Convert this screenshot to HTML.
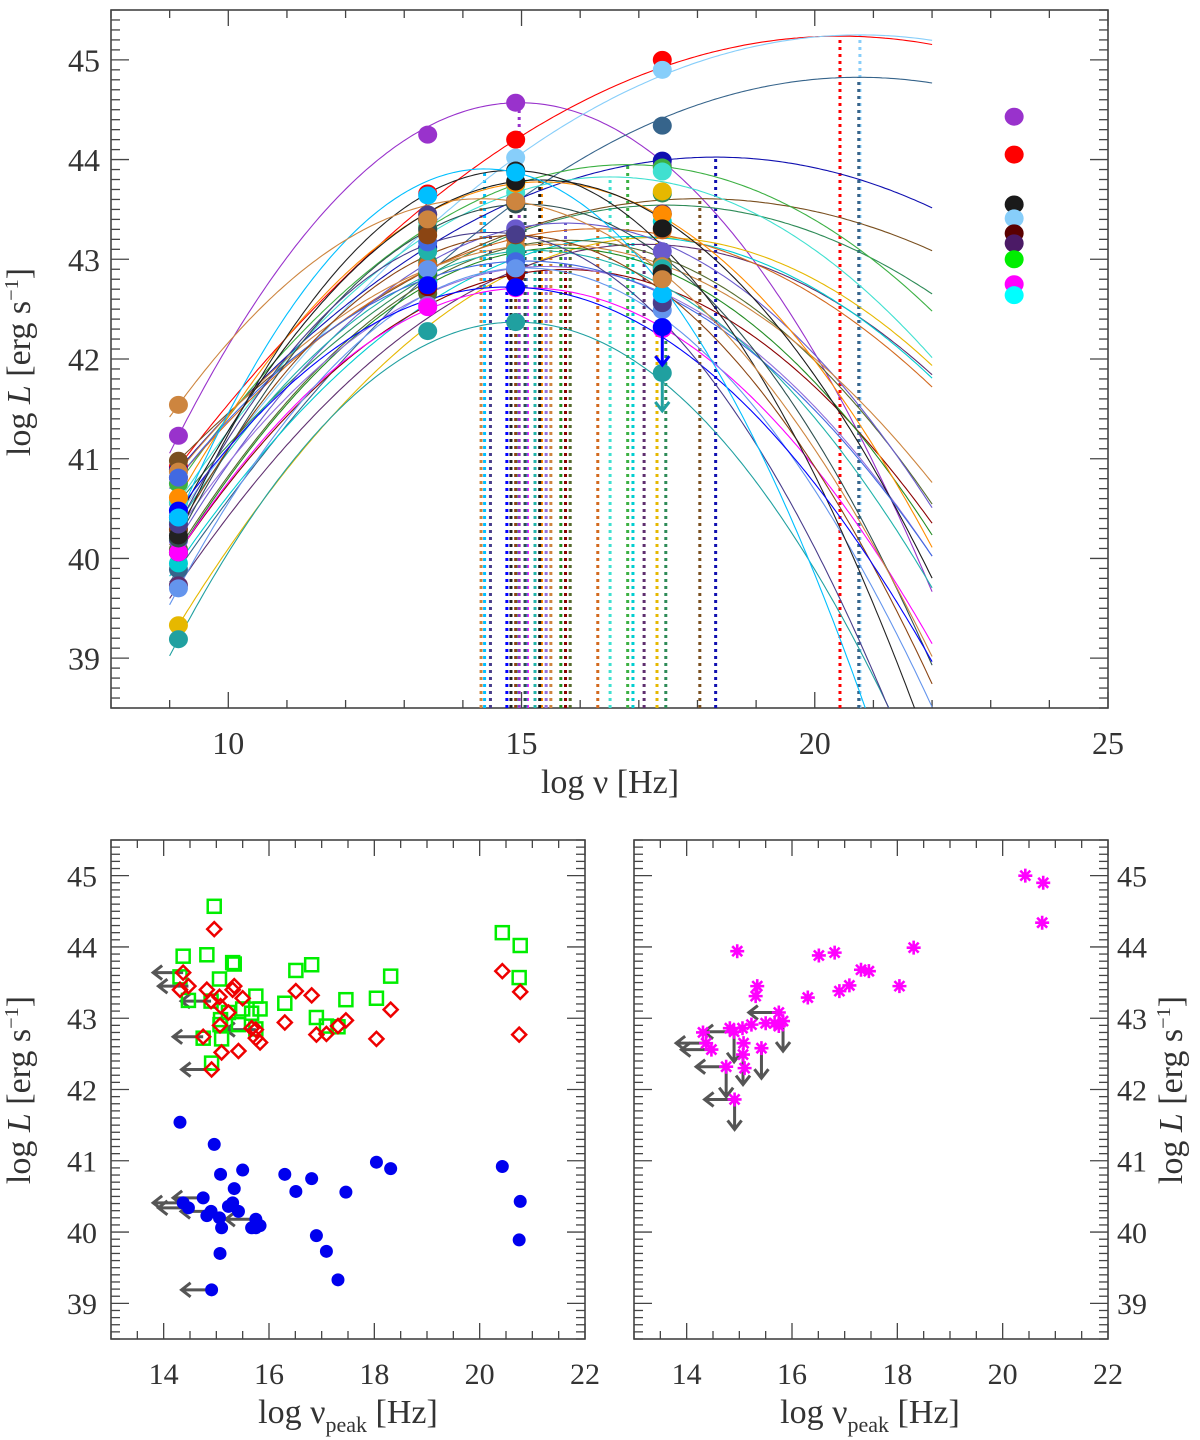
<!DOCTYPE html>
<html><head><meta charset="utf-8"><style>
html,body{margin:0;padding:0;background:#fff;}
svg{display:block;font-family:"Liberation Serif",serif;}
</style></head><body>
<svg id="fig" width="1200" height="1440" viewBox="0 0 1200 1440" xmlns="http://www.w3.org/2000/svg">
<defs>
<clipPath id="clipTop"><rect x="111" y="10" width="997" height="698"/></clipPath>
</defs>
<rect width="1200" height="1440" fill="#fff"/>
<g id="top"></g>
<g id="bl"></g>
<g id="br"></g>
</svg>
<script>
// ---- data ----
const bands = [9.15, 13.4, 14.9, 17.4];
const gammaBand = 23.4;
const nuPeak = [14.96,20.43,20.77,20.75,18.31,18.04,17.46,17.31,17.09,16.90,16.81,16.51,16.30,15.83,15.75,15.75,15.67,15.50,15.42,15.34,15.31,15.23,15.10,15.08,15.07,15.06,14.91,14.90,14.82,14.75,14.47,14.37,14.31];
const Lradio = [41.23,40.92,40.43,39.89,40.89,40.98,40.56,39.33,39.73,39.95,40.75,40.57,40.81,40.09,40.18,40.06,40.06,40.87,40.29,40.61,40.41,40.36,40.06,40.81,39.70,40.20,39.19,40.29,40.23,40.48,40.34,40.41,41.54];
const Lir = [44.25,43.66,43.37,42.77,43.12,42.71,42.97,42.89,42.78,42.77,43.32,43.38,42.94,42.66,42.84,42.72,42.86,43.28,42.54,43.45,43.40,43.08,42.52,43.17,42.90,43.30,42.28,43.24,43.40,42.74,43.45,43.64,43.40];
const Lopt = [44.57,44.20,44.02,43.57,43.59,43.28,43.26,42.88,42.89,43.01,43.75,43.67,43.21,43.13,43.31,42.85,43.07,43.13,42.91,43.76,43.78,43.08,42.71,42.98,42.91,43.55,42.37,43.24,43.89,42.72,43.25,43.87,43.58];
const Lx = [43.94,45.00,44.90,44.34,43.99,43.45,43.66,43.68,43.46,43.38,43.92,43.88,43.29,42.96,43.08,42.89,42.93,42.93,42.58,43.45,43.31,42.91,42.30,42.65,42.49,42.86,41.86,42.81,42.86,42.32,42.56,42.65,42.80];
const gammaL = [44.43,44.05,43.55,43.41,43.26,43.16,43.00,42.75,42.64];
const nuLimitIdx = [14,26,27,29,30,31];
const xLimitIdx = [13,18,24,26,27,29];
const topXArrowIdx = [26,29];
// ---- styles ----
const palette = ["#9932cc","#ff0000","#87cefa","#36648b","#1010b0","#7a5020","#2e8b57","#e6b800","#5f2f6f","#00ced1","#3cb043","#40e0d0","#d2691e","#556b2f","#6a5acd","#8b0000","#228b22","#cd853f","#9370db","#ff8c00","#1a1a1a","#20b2aa","#ff00ff","#4169e1","#6495ed","#2f4f4f","#20a0a0","#8b4513","#222222","#0000ff","#483d8b","#00bfff","#cd853f"];
const gammaColor = ["#9932cc","#ff0000","#1a1a1a","#87cefa","#5a0000","#4b1a66","#00ee00","#ff00ff","#00ffff"];

const NS="http://www.w3.org/2000/svg";
function el(tag, attrs, parent){const e=document.createElementNS(NS,tag);for(const k in attrs)e.setAttribute(k,attrs[k]);parent.appendChild(e);return e;}
const AX="#444", TXT="#333";

function axes(g, P, xMaj, xMin, yMaj, yMin, fs, xlabY, ylabSide, ylabX){
  el('rect',{x:P.x0,y:P.y0,width:P.x1-P.x0,height:P.y1-P.y0,fill:'none',stroke:AX,'stroke-width':1.6},g);
  const sx=v=>P.x0+(v-P.xmin)/(P.xmax-P.xmin)*(P.x1-P.x0);
  const sy=v=>P.y1-(v-P.ymin)/(P.ymax-P.ymin)*(P.y1-P.y0);
  const eps=1e-6;
  for(let v=Math.ceil(P.xmin/xMin)*xMin; v<=P.xmax+eps; v+=xMin){
    const maj=Math.abs(v/xMaj-Math.round(v/xMaj))<1e-4; const L=maj?16:8; const x=sx(v);
    el('line',{x1:x,x2:x,y1:P.y1,y2:P.y1-L,stroke:AX,'stroke-width':1.3},g);
    el('line',{x1:x,x2:x,y1:P.y0,y2:P.y0+L,stroke:AX,'stroke-width':1.3},g);
    if(maj){const t=el('text',{x:x,y:xlabY,'font-size':fs,'text-anchor':'middle',fill:TXT},g);t.textContent=Math.round(v);
      }
  }
  for(let v=Math.ceil(P.ymin/yMin-eps)*yMin; v<=P.ymax+eps; v+=yMin){
    const maj=Math.abs(v/yMaj-Math.round(v/yMaj))<1e-4; const L=maj?18:9; const y=sy(v);
    el('line',{x1:P.x0,x2:P.x0+L,y1:y,y2:y,stroke:AX,'stroke-width':1.3},g);
    el('line',{x1:P.x1,x2:P.x1-L,y1:y,y2:y,stroke:AX,'stroke-width':1.3},g);
    if(maj && ylabSide){const t=el('text',{x:ylabX,y:y+fs*0.36,'font-size':fs,'text-anchor':ylabSide==='left'?'end':'start',fill:TXT},g);t.textContent=Math.round(v);
      }
  }
  return {sx,sy};
}
function yTitle(g,x,y,fs){
  const t=el('text',{x:0,y:0,'font-size':fs,'text-anchor':'middle',fill:TXT,transform:`translate(${x},${y}) rotate(-90)`},g);
  t.innerHTML='log <tspan font-style="italic">L</tspan> [erg s<tspan dy="-12" font-size="'+(fs*0.6)+'">−1</tspan><tspan dy="12">]</tspan>';
  
}
function leftArrow(g,x,y,len){
  const a=el('path',{d:`M${x},${y} L${x-len},${y} M${x-len+9},${y-7} L${x-len},${y} L${x-len+9},${y+7}`,stroke:'#555','stroke-width':3,fill:'none'},g);
  
}
function downArrow(g,x,y,len,c){
  const a=el('path',{d:`M${x},${y} L${x},${y+len} M${x-7},${y+len-9} L${x},${y+len} L${x+7},${y+len-9}`,stroke:c||'#555','stroke-width':3,fill:'none'},g);
  
}
function curveParams(i){
  const n=nuPeak[i], a=(9.15-n)**2, c=(14.9-n)**2;
  const b=(Lopt[i]-Lradio[i])/(a-c);
  return {b, Lp: Lopt[i]+b*c};
}

// ---- top panel ----
(function(){
  const g=document.getElementById('top');
  const P={x0:111,x1:1108,y0:10,y1:708,xmin:8,xmax:25,ymin:38.5,ymax:45.5};
  const {sx,sy}=axes(g,P,5,1,1,0.1,32,754,'left',100);
  yTitle(g,30,362,34);
  const xt=el('text',{x:610,y:793,'font-size':34,'text-anchor':'middle',fill:TXT},g);
  xt.textContent='log ν [Hz]';
  
  const cg=el('g',{'clip-path':'url(#clipTop)'},g);
  // dotted peak lines
  nuPeak.forEach((n,i)=>{
    const {Lp}=curveParams(i);
    const l=el('line',{x1:sx(n),x2:sx(n),y1:P.y1,y2:sy(Lp),stroke:palette[i],'stroke-width':3,'stroke-dasharray':'3 4'},cg);
    
    
  });
  // curves
  nuPeak.forEach((n,i)=>{
    const {b,Lp}=curveParams(i); let d='';
    for(let x=9.0;x<=22.0001;x+=0.05){const y=Lp-b*(x-n)**2; d+=(d?'L':'M')+sx(x).toFixed(1)+','+sy(y).toFixed(1);}
    const p=el('path',{d,fill:'none',stroke:palette[i],'stroke-width':1.1},cg);
    
    
  });
  const bandVals=[Lradio,Lir,Lopt,Lx];
  bandVals.forEach((arr,k)=>{
    arr.forEach((v,i)=>{
      const c=el('ellipse',{cx:sx(bands[k]),cy:sy(v),rx:9.5,ry:9,fill:palette[i]},g);
      
      
    });
  });
  topXArrowIdx.forEach(i=>downArrow(g,sx(bands[3]),sy(Lx[i])+6,32,palette[i]));
  gammaL.forEach((v,i)=>{
    const c=el('ellipse',{cx:sx(gammaBand),cy:sy(v),rx:9.5,ry:9,fill:gammaColor[i]},g);
    
    
  });
})();

// ---- bottom left ----
(function(){
  const g=document.getElementById('bl');
  const P={x0:111,x1:585,y0:840,y1:1339,xmin:13,xmax:22,ymin:38.5,ymax:45.5};
  const {sx,sy}=axes(g,P,2,0.5,1,0.1,30,1384,'left',97);
  yTitle(g,30,1090,34);
  const xt=el('text',{x:348,y:1423,'font-size':34,'text-anchor':'middle',fill:TXT},g);
  xt.innerHTML='log ν<tspan dy="9" font-size="22">peak</tspan><tspan dy="-9"> [Hz]</tspan>';
  
  nuLimitIdx.forEach(i=>{leftArrow(g,sx(nuPeak[i]),sy(Lradio[i]),30);leftArrow(g,sx(nuPeak[i]),sy(Lir[i]),30);});
  Lopt.forEach((v,i)=>{
    const s=el('rect',{x:sx(nuPeak[i])-6.5,y:sy(v)-6.5,width:13,height:13,fill:'none',stroke:'#00ee00','stroke-width':2.5},g);
    
    
  });
  Lir.forEach((v,i)=>{
    const x=sx(nuPeak[i]),y=sy(v);
    const d=el('path',{d:`M${x},${y-7} L${x+7},${y} L${x},${y+7} L${x-7},${y} Z`,fill:'none',stroke:'#ee0000','stroke-width':2.5},g);
    
    
  });
  Lradio.forEach((v,i)=>{
    const c=el('circle',{cx:sx(nuPeak[i]),cy:sy(v),r:6.5,fill:'#0000ee'},g);
    
    
  });
})();

// ---- bottom right ----
(function(){
  const g=document.getElementById('br');
  const P={x0:634,x1:1108,y0:840,y1:1339,xmin:13,xmax:22,ymin:38.5,ymax:45.5};
  const {sx,sy}=axes(g,P,2,0.5,1,0.1,30,1384,'right',1117);
  yTitle(g,1182,1090,34);
  const xt=el('text',{x:870,y:1423,'font-size':34,'text-anchor':'middle',fill:TXT},g);
  xt.innerHTML='log ν<tspan dy="9" font-size="22">peak</tspan><tspan dy="-9"> [Hz]</tspan>';
  
  nuLimitIdx.forEach(i=>leftArrow(g,sx(nuPeak[i]),sy(Lx[i]),30));
  xLimitIdx.forEach(i=>downArrow(g,sx(nuPeak[i]),sy(Lx[i]),30));
  Lx.forEach((v,i)=>{
    const x=sx(nuPeak[i]),y=sy(v),r=7;
    const a=el('path',{d:`M${x-r},${y} L${x+r},${y} M${x},${y-r} L${x},${y+r} M${x-5},${y-5} L${x+5},${y+5} M${x-5},${y+5} L${x+5},${y-5}`,stroke:'#ff00ff','stroke-width':2.6,fill:'none'},g);
    
    
  });
})();
</script>
</body></html>
